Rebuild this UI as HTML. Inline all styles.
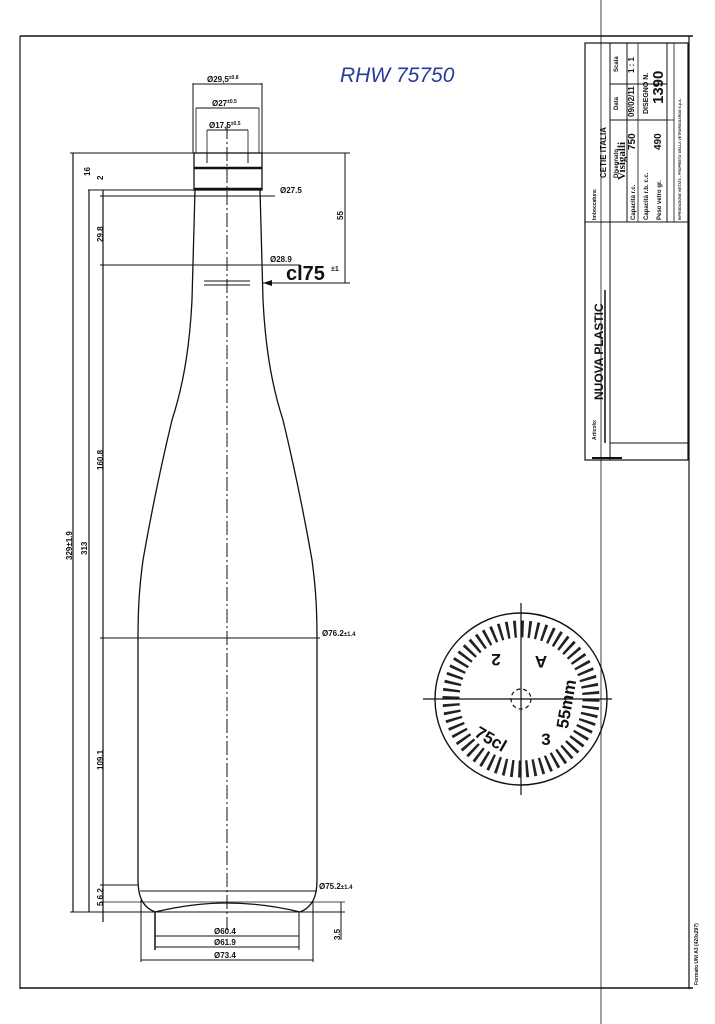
<!DOCTYPE html>
<html><head><meta charset="utf-8"><style>
html,body{margin:0;padding:0;background:#fff}
svg{display:block}
text{font-family:"Liberation Sans",sans-serif;fill:#111}
</style></head><body>
<svg width="715" height="1024" viewBox="0 0 715 1024" xmlns="http://www.w3.org/2000/svg">
<g stroke="#111" fill="none">
<line x1="20" y1="36" x2="693" y2="36" stroke-width="1.5"/>
<line x1="20" y1="36" x2="20" y2="989" stroke-width="1.2"/>
<line x1="20" y1="988" x2="693" y2="988" stroke-width="1.5"/>
<line x1="689" y1="36" x2="689" y2="989" stroke-width="1.2"/>
<line x1="601" y1="0" x2="601" y2="1024" stroke-width="0.8"/>
<rect x="585" y="43" width="103" height="417" stroke-width="1.2"/>
<line x1="610" y1="43" x2="610" y2="222" stroke-width="1"/>
<line x1="627" y1="43" x2="627" y2="222" stroke-width="1"/>
<line x1="638" y1="43" x2="638" y2="222" stroke-width="0.8"/>
<line x1="667" y1="43" x2="667" y2="222" stroke-width="1"/>
<line x1="674" y1="43" x2="674" y2="222" stroke-width="0.8"/>
<line x1="610" y1="84" x2="667" y2="84" stroke-width="1"/>
<line x1="610" y1="120" x2="667" y2="120" stroke-width="1"/>
<line x1="638" y1="120" x2="674" y2="120" stroke-width="0.8"/>
<line x1="585" y1="222" x2="688" y2="222" stroke-width="1"/>
<line x1="610" y1="222" x2="610" y2="460" stroke-width="1"/>
<line x1="605" y1="290" x2="605" y2="443" stroke-width="1.5"/>
<line x1="610" y1="443" x2="688" y2="443" stroke-width="1"/>
<line x1="592" y1="458" x2="622" y2="458" stroke-width="2"/>
<line x1="227" y1="125" x2="227" y2="930" stroke-width="1" stroke-dasharray="14,3,2,3"/>
<rect x="194" y="153" width="68" height="37" stroke-width="1.3"/>
<line x1="194" y1="168" x2="262" y2="168" stroke-width="2.5"/>
<line x1="194" y1="189" x2="262" y2="189" stroke-width="2.5"/>
<line x1="207" y1="153" x2="207" y2="163" stroke-width="1"/>
<line x1="248" y1="153" x2="248" y2="163" stroke-width="1"/>
<path d="M195 190 L192 300 C190 340 185 380 172 420 C160 470 150 520 143 560 C139 590 138 610 138 640 L138 880 C138 900 145 908 155 912 C180 906 205 903 227 903 C249 903 275 906 300 912 C310 908 317 900 317 880 L317 640 C317 610 316 590 312 560 C305 520 295 470 283 420 C270 380 265 340 263 300 L260 190" stroke-width="1.3"/>
<line x1="204" y1="281" x2="250" y2="281" stroke-width="1"/>
<line x1="204" y1="285" x2="250" y2="285" stroke-width="1"/>
<line x1="70" y1="153" x2="350" y2="153" stroke-width="1"/>
<line x1="88" y1="190" x2="200" y2="190" stroke-width="1"/>
<line x1="100" y1="196" x2="275" y2="196" stroke-width="1"/>
<line x1="100" y1="265" x2="300" y2="265" stroke-width="1"/>
<line x1="100" y1="638" x2="320" y2="638" stroke-width="1"/>
<line x1="100" y1="885" x2="138" y2="885" stroke-width="1"/>
<line x1="100" y1="902" x2="345" y2="902" stroke-width="0.8"/>
<line x1="140" y1="891" x2="317" y2="891" stroke-width="1"/>
<line x1="70" y1="912" x2="345" y2="912" stroke-width="1"/>
<line x1="262" y1="283" x2="350" y2="283" stroke-width="1"/>
<line x1="73" y1="153" x2="73" y2="912" stroke-width="1.2"/>
<line x1="89" y1="190" x2="89" y2="912" stroke-width="1.2"/>
<line x1="103" y1="190" x2="103" y2="922" stroke-width="1.2"/>
<line x1="345" y1="153" x2="345" y2="283" stroke-width="1"/>
<line x1="341" y1="902" x2="341" y2="940" stroke-width="1"/>
<line x1="193" y1="83" x2="193" y2="153" stroke-width="1"/>
<line x1="262" y1="83" x2="262" y2="153" stroke-width="1"/>
<line x1="193" y1="84" x2="262" y2="84" stroke-width="1"/>
<line x1="196" y1="108" x2="259" y2="108" stroke-width="1"/>
<line x1="196" y1="108" x2="196" y2="153" stroke-width="0.8"/>
<line x1="259" y1="108" x2="259" y2="153" stroke-width="0.8"/>
<line x1="207" y1="130" x2="248" y2="130" stroke-width="1"/>
<line x1="207" y1="130" x2="207" y2="153" stroke-width="0.8"/>
<line x1="248" y1="130" x2="248" y2="153" stroke-width="0.8"/>
<line x1="155" y1="912" x2="155" y2="950" stroke-width="1.5"/>
<line x1="299" y1="912" x2="299" y2="950" stroke-width="1"/>
<line x1="141" y1="900" x2="141" y2="962" stroke-width="1"/>
<line x1="313" y1="900" x2="313" y2="962" stroke-width="1"/>
<line x1="155" y1="936" x2="299" y2="936" stroke-width="1"/>
<line x1="155" y1="947" x2="299" y2="947" stroke-width="1"/>
<line x1="141" y1="960" x2="313" y2="960" stroke-width="1"/>
<line x1="265" y1="283" x2="300" y2="283" stroke-width="1"/>
<path d="M263 283 L272 280 L272 286 Z" fill="#111" stroke="none"/>
<circle cx="521" cy="699" r="86" stroke-width="1.4"/>
<circle cx="521" cy="699" r="70" stroke="#222" stroke-width="17" stroke-dasharray="2.6 4.73"/>
<circle cx="521" cy="699" r="10" stroke-width="1.2" stroke-dasharray="4 3"/>
<line x1="423" y1="699" x2="612" y2="699" stroke-width="1.2"/>
<line x1="521" y1="603" x2="521" y2="795" stroke-width="1.2"/>
</g>
<text x="340" y="82" font-size="21" style="fill:#2a3a9a;font-family:'Liberation Sans',sans-serif;font-style:italic">RHW 75750</text>
<text x="207" y="82" font-size="8" font-weight="bold">Ø29,5<tspan font-size="5" dy="-3">±0.8</tspan></text>
<text x="212" y="106" font-size="8" font-weight="bold">Ø27<tspan font-size="5" dy="-3">±0.5</tspan></text>
<text x="209" y="128" font-size="8" font-weight="bold">Ø17,5<tspan font-size="5" dy="-3">±0.5</tspan></text>
<text x="280" y="193" font-size="8" font-weight="bold">Ø27.5</text>
<text x="270" y="262" font-size="8" font-weight="bold">Ø28.9</text>
<text x="286" y="280" font-size="20" font-weight="bold">cl75</text>
<text x="331" y="271" font-size="7" font-weight="bold">±1</text>
<text x="322" y="636" font-size="8" font-weight="bold">Ø76.2<tspan font-size="6">±1.4</tspan></text>
<text x="319" y="889" font-size="8" font-weight="bold">Ø75.2<tspan font-size="6">±1.4</tspan></text>
<text x="214" y="934" font-size="8" font-weight="bold">Ø60.4</text>
<text x="214" y="945" font-size="8" font-weight="bold">Ø61.9</text>
<text x="214" y="958" font-size="8" font-weight="bold">Ø73.4</text>
<g font-size="8" font-weight="bold">
<text transform="translate(90,176) rotate(-90)">16</text>
<text transform="translate(103,242) rotate(-90)">29.8</text>
<text transform="translate(103,180) rotate(-90)">2</text>
<text transform="translate(103,470) rotate(-90)">160.8</text>
<text transform="translate(103,770) rotate(-90)">109.1</text>
<text transform="translate(103,906) rotate(-90)">5 6.2</text>
<text transform="translate(87,555) rotate(-90)">313</text>
<text transform="translate(72,560) rotate(-90)">329±1.9</text>
<text transform="translate(343,220) rotate(-90)">55</text>
<text transform="translate(340,940) rotate(-90)">3.5</text>
</g>
<g font-weight="bold">
<text transform="translate(596,220) rotate(-90)" font-size="5">Imboccatura:</text>
<text transform="translate(606,178) rotate(-90)" font-size="8">CETIE ITALIA</text>
<text transform="translate(618,178) rotate(-90)" font-size="6">Disegnato</text>
<text transform="translate(625,180) rotate(-90)" font-size="11" style="font-family:'Liberation Serif',serif">Visigalli</text>
<text transform="translate(618,110) rotate(-90)" font-size="6">Data</text>
<text transform="translate(634,117) rotate(-90)" font-size="8">09/02/11</text>
<text transform="translate(618,72) rotate(-90)" font-size="6">Scala</text>
<text transform="translate(634,73) rotate(-90)" font-size="8">1 : 1</text>
<text transform="translate(635,220) rotate(-90)" font-size="6">Capacità r.c.</text>
<text transform="translate(635,150) rotate(-90)" font-size="10">750</text>
<text transform="translate(648,220) rotate(-90)" font-size="6">Capacità r.b. c.c.</text>
<text transform="translate(661,220) rotate(-90)" font-size="6">Peso vetro gr.</text>
<text transform="translate(661,150) rotate(-90)" font-size="10">490</text>
<text transform="translate(648,114) rotate(-90)" font-size="7">DISEGNO N.</text>
<text transform="translate(663,104) rotate(-90)" font-size="15">1390</text>
<text transform="translate(681,220) rotate(-90)" font-size="3.5">RIPRODUZIONE VIETATA - PROPRIETA' DELLA VETRORIGUARDO S.p.A.</text>
<text transform="translate(596,440) rotate(-90)" font-size="5">Articolo:</text>
<text transform="translate(603,400) rotate(-90)" font-size="12">NUOVA PLASTIC</text>
<text transform="translate(698,985) rotate(-90)" font-size="5">Formato UNI A3 (420x297)</text>
</g>
<g font-weight="bold" font-size="17">
<text transform="translate(496,654) rotate(180)" text-anchor="middle">2</text>
<text transform="translate(541,656) rotate(180)" text-anchor="middle">A</text>
<text transform="translate(572,705) rotate(-80)" text-anchor="middle">55mm</text>
<text transform="translate(488,744) rotate(30)" text-anchor="middle">75cl</text>
<text x="546" y="745" text-anchor="middle">3</text>
</g>
</svg>
</body></html>
